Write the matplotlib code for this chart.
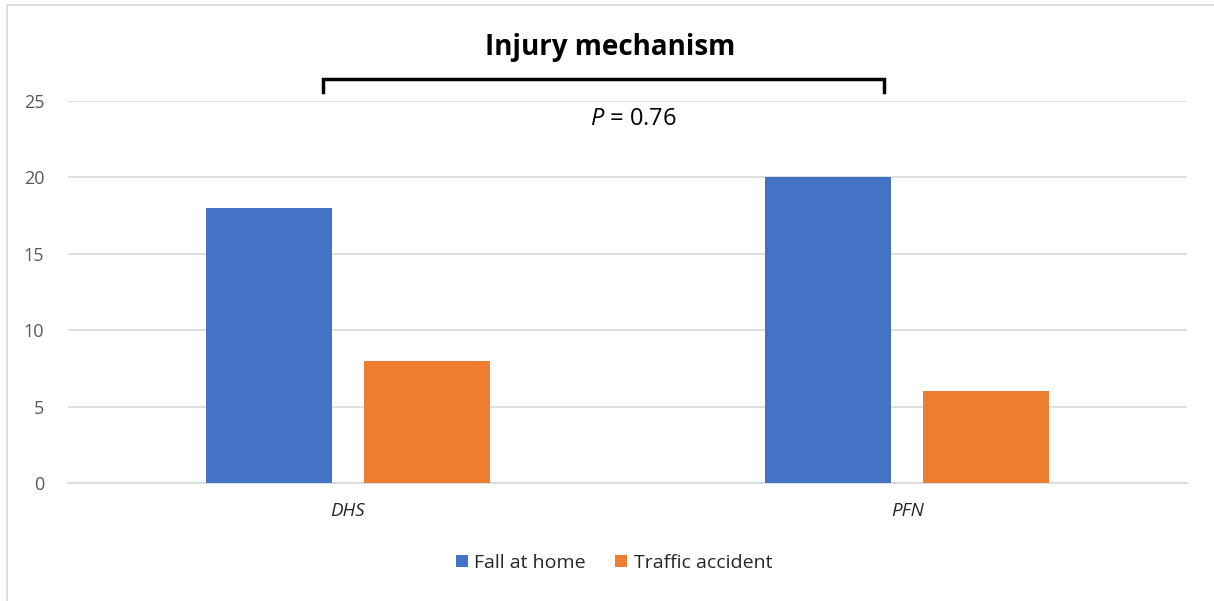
import matplotlib
matplotlib.use("Agg")
import matplotlib.pyplot as plt
from matplotlib.patches import Rectangle
import numpy as np

categories = ["DHS", "PFN"]
series_names = ["Fall at home", "Traffic accident"]
fall_at_home = [18, 20]
traffic_accident = [8, 6]
yticks = [0, 5, 10, 15, 20, 25]
title = "Injury mechanism"
pval_text = "$\\it{P}$ = 0.76"

colors = ["#4472C4", "#ED7D31"]
plt.rcParams['font.family'] = ['Open Sans', 'DejaVu Sans']
plt.rcParams['mathtext.fontset'] = 'custom'
plt.rcParams['mathtext.it'] = 'Open Sans:italic'

W, H = 1214, 601
fig = plt.figure(figsize=(W / 100, H / 100), dpi=100)
# outer border (light gray) on left/top
fig.patches.append(Rectangle((7 / W, -0.1), 1.2, (H - 5) / H + 0.1, transform=fig.transFigure,
                             fill=False, edgecolor="#D9D9D9", linewidth=1.2))

ax = fig.add_axes([68 / W, 1 - 483 / H, (1187 - 68) / W, (483 - 101) / H])
x = np.arange(len(categories))
bw = 0.225
off = 0.141
ax.bar(x - off, fall_at_home, bw, color=colors[0], label=series_names[0], zorder=3)
ax.bar(x + off, traffic_accident, bw, color=colors[1], label=series_names[1], zorder=3)

ax.set_xlim(-0.5, 1.5)
ax.set_ylim(0, 25)
ax.set_yticks(yticks)
ax.set_yticklabels([str(v) for v in yticks], fontsize=13, color="#595959")
ax.set_xticks(x)
ax.set_xticklabels(categories, fontsize=13.5, color="#262626", style="italic")
ax.tick_params(axis="both", length=0)
ax.tick_params(axis="y", pad=17)
ax.tick_params(axis="x", pad=14)
ax.grid(axis="y", color="#D9D9D9", linewidth=1.2, zorder=0)
for s in ["top", "right", "left"]:
    ax.spines[s].set_visible(False)
ax.spines["bottom"].set_color("#D9D9D9")
ax.spines["bottom"].set_linewidth(1.2)

# Title and bracket
fig.text(610 / W, 1 - 48 / H, title, ha="center", va="center", fontsize=20, fontweight="bold", color="black")
bx0, bx1, by0, by1 = 323 / W, 884 / W, 1 - 79 / H, 1 - 92 / H
fig.add_artist(plt.Line2D([bx0, bx0, bx1, bx1], [by1, by0, by0, by1], transform=fig.transFigure,
                          color="black", linewidth=2.5, solid_joinstyle="miter"))
fig.text(633 / W, 1 - 119 / H, pval_text, ha="center", va="center", fontsize=17, color="black")

leg = fig.legend(loc="center", bbox_to_anchor=(614 / W, 1 - 563 / H), ncol=2, frameon=False,
                 fontsize=14, handlelength=0.6, handleheight=0.6, columnspacing=1.5, handletextpad=0.35)
for t in leg.get_texts():
    t.set_color("#262626")

fig.savefig("out.png", dpi=100)
